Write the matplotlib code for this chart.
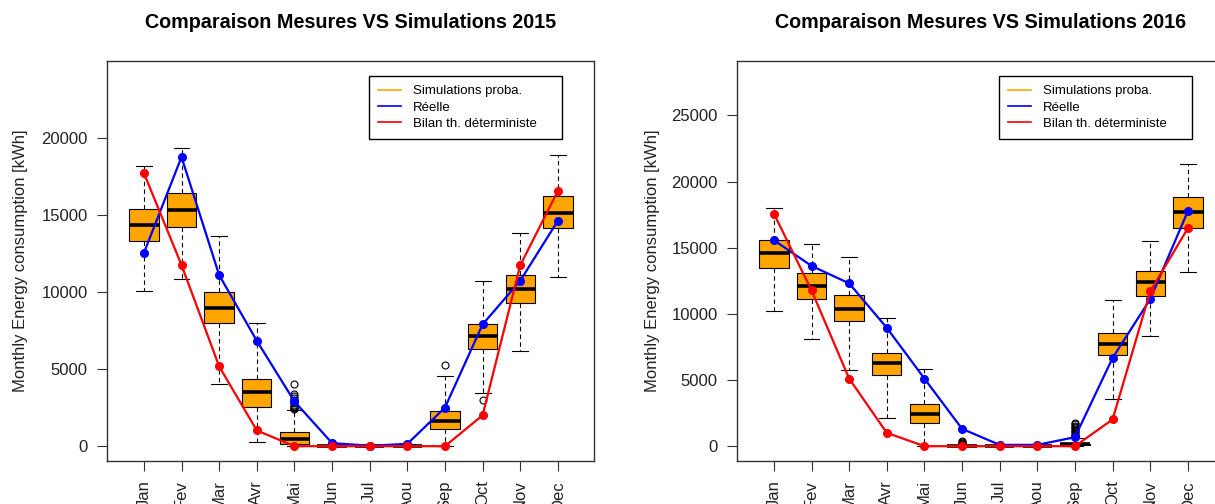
import matplotlib
matplotlib.use("Agg")
import matplotlib.pyplot as plt
from matplotlib.lines import Line2D

plt.rcParams['font.family'] = ['Liberation Sans', 'DejaVu Sans']

mois = ['Jan', 'Fev', 'Mar', 'Avr', 'Mai', 'Jun', 'Jul', 'Aou', 'Sep', 'Oct', 'Nov', 'Dec']

# 2015 - simulations probabilistes (boxplots)
whislo_2015 = [10070, 10850, 4020, 280, 0, 0, 0, 0, 0, 3430, 6150, 10980]
q1_2015 = [13300, 14200, 7980, 2540, 170, 0, 0, 0, 1090, 6300, 9300, 14110]
med_2015 = [14350, 15330, 8980, 3520, 480, 10, 0, 10, 1630, 7110, 10200, 15130]
q3_2015 = [15390, 16390, 9960, 4350, 890, 40, 20, 60, 2280, 7890, 11090, 16200]
whishi_2015 = [18130, 19350, 13590, 7980, 2350, 100, 40, 120, 4565, 10720, 13800, 18870]
fliers_2015 = [[], [], [], [],
               [4040, 3400, 3250, 3100, 3000, 2900, 2800, 2700, 2600, 2500, 2450, 2400],
               [200], [], [], [5260], [3000], [], []]
reelle_2015 = [12520, 18740, 11090, 6830, 2900, 200, 30, 150, 2500, 7890, 10720, 14610]
bilan_2015 = [17700, 11740, 5170, 1020, 0, 0, 0, 0, 0, 2000, 11720, 16540]

# 2016
whislo_2016 = [10190, 8115, 5760, 2100, 0, 0, 0, 0, 0, 3590, 8320, 13170]
q1_2016 = [13450, 11120, 9430, 5380, 1720, 0, 0, 0, 60, 6880, 11350, 16510]
med_2016 = [14590, 12110, 10390, 6270, 2450, 0, 0, 0, 130, 7710, 12440, 17670]
q3_2016 = [15570, 13070, 11430, 7080, 3190, 20, 10, 20, 200, 8570, 13220, 18830]
whishi_2016 = [18000, 15270, 14330, 9680, 5860, 50, 30, 50, 630, 11020, 15500, 21340]
fliers_2016 = [[], [], [], [], [],
               [380, 300, 250, 200, 150, 100],
               [], [],
               [1770, 1650, 1550, 1450, 1350, 1250, 1150, 1050, 950, 850, 750],
               [], [], []]
reelle_2016 = [15570, 13630, 12310, 8950, 5110, 1310, 100, 100, 680, 6670, 11120, 17770]
bilan_2016 = [17590, 11780, 5110, 1010, 0, 0, 0, 0, 0, 2020, 11700, 16480]

W, H = 1215, 504


def tracer(ax, annee, whislo, q1, med, q3, whishi, fliers, reelle, bilan, ymax, yticks):
    stats = []
    for i in range(len(mois)):
        stats.append({'whislo': whislo[i], 'q1': q1[i], 'med': med[i], 'q3': q3[i],
                      'whishi': whishi[i], 'fliers': fliers[i], 'label': mois[i]})
    pos = list(range(1, len(mois) + 1))
    ax.bxp(stats, positions=pos, widths=0.78, capwidths=0.42, patch_artist=True,
           boxprops=dict(facecolor='#FFA500', edgecolor='black', linewidth=0.8),
           medianprops=dict(color='black', linewidth=2.6, solid_capstyle='butt'),
           whiskerprops=dict(color='black', linewidth=0.8, linestyle=(0, (4, 3))),
           capprops=dict(color='black', linewidth=0.8),
           flierprops=dict(marker='o', markerfacecolor='none', markeredgecolor='black',
                           markersize=5, markeredgewidth=0.8))
    ax.plot(pos, reelle, color='#0000FF', lw=1.6, marker='o', ms=5.5, zorder=5)
    ax.plot(pos, bilan, color='#FF0000', lw=1.6, marker='o', ms=5.5, zorder=5)

    ax.set_xlim(0.02, 12.96)
    ax.set_ylim(-0.04 * ymax, 1.04 * ymax)
    ax.set_yticks(yticks)
    ax.set_yticklabels([str(v) for v in yticks])
    ax.set_xticks(pos)
    ax.set_xticklabels(mois, rotation=90)
    ax.tick_params(axis='both', length=7, width=0.8, pad=7, labelsize=12,
                   color='#333333', labelcolor='#222222')
    for s in ax.spines.values():
        s.set_color('#333333')
        s.set_linewidth(1.0)

    ax.set_title(f"Comparaison Mesures VS Simulations {annee}", fontsize=14.2,
                 fontweight='bold', pad=24)

    handles = [Line2D([], [], color='#FFA500', lw=1.2),
               Line2D([], [], color='#0000FF', lw=1.2),
               Line2D([], [], color='#FF0000', lw=1.2)]
    leg = ax.legend(handles, ['Simulations proba.', 'Réelle', 'Bilan th. déterministe'],
                    loc='upper left', bbox_to_anchor=(0.538, 0.805, 0.396, 0.1575),
                    mode='expand', fontsize=9.5,
                    fancybox=False, framealpha=1, edgecolor='black',
                    handlelength=1.75, handletextpad=0.9, labelspacing=0.3,
                    borderpad=0.7, borderaxespad=0)
    leg.get_frame().set_linewidth(1.0)


fig = plt.figure(figsize=(W / 100, H / 100), dpi=100)
ax1 = fig.add_axes([107 / W, 1 - 461 / H, 487 / W, 400 / H])
ax2 = fig.add_axes([737 / W, 1 - 461 / H, 487 / W, 400 / H])

tracer(ax1, 2015, whislo_2015, q1_2015, med_2015, q3_2015, whishi_2015, fliers_2015,
       reelle_2015, bilan_2015, 24000, [0, 5000, 10000, 15000, 20000])
tracer(ax2, 2016, whislo_2016, q1_2016, med_2016, q3_2016, whishi_2016, fliers_2016,
       reelle_2016, bilan_2016, 28000, [0, 5000, 10000, 15000, 20000, 25000])

for x in (21, 653):
    fig.text(x / W, 1 - 261 / H, "Monthly Energy consumption [kWh]", rotation=90,
             ha='center', va='center', fontsize=12, color='#222222')

fig.savefig("out.png", dpi=100)
